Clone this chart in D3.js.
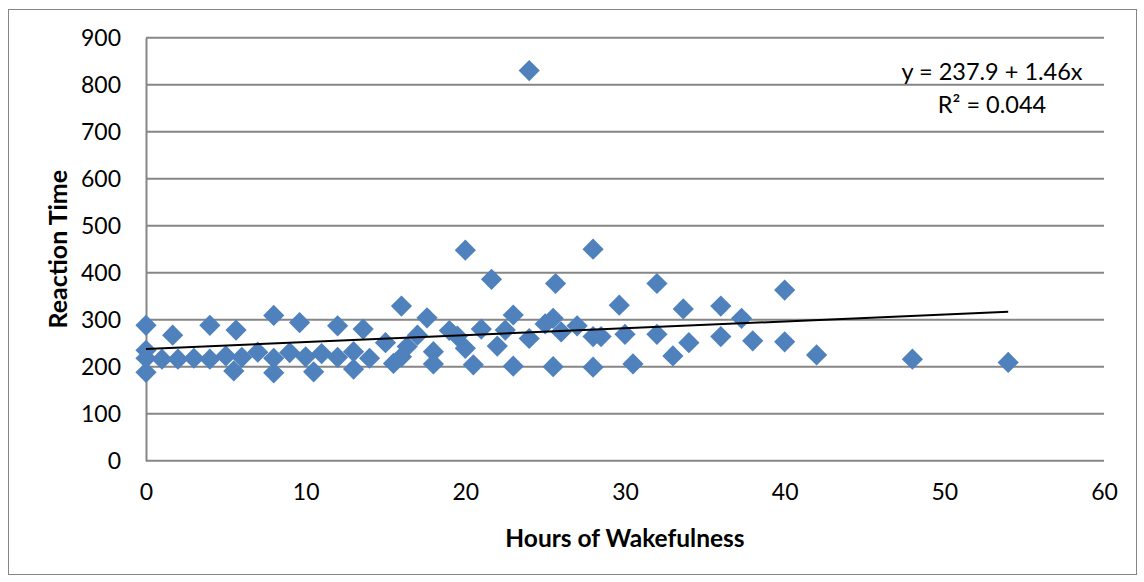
<!DOCTYPE html>
<html>
<head>
<meta charset="utf-8">
<script src="https://cdn.jsdelivr.net/npm/d3@7"></script>
<style>
  html, body { margin: 0; padding: 0; background: #fff; }
  svg { display: block; }
  text { font-family: Lato, "Open Sans", sans-serif; fill: #000; }
</style>
</head>
<body>
<svg id="chart" width="1144" height="582"></svg>
<script>
// Hours awake and the measured reaction time for each trial
const hours = [
  0, 0, 0, 0, 1, 1.67, 2, 3, 4, 4,
  5, 5.5, 5.64, 6, 7, 8, 8, 8, 9, 9.62,
  10, 10.5, 11, 12, 12, 13, 13, 13.6, 14, 15,
  15.5, 16, 16, 16.36, 17, 17.6, 18, 18, 19, 19.5,
  20, 20, 20.5, 21, 21.64, 22, 22.5, 23, 23, 24,
  24, 25, 25.5, 25.65, 25.5, 26, 27, 28, 28, 28,
  28.5, 29.64, 30, 30.5, 32, 32, 33, 33.65, 34, 36,
  36, 37.3, 38, 40, 40, 42, 48, 54
];
const reaction = [
  288, 235, 218, 188, 216, 267, 216, 218, 288, 216,
  223, 191, 278, 220, 231, 309, 218, 187, 230, 294,
  221, 189, 228, 287, 220, 232, 195, 280, 218, 251,
  207, 329, 221, 243, 267, 304, 232, 206, 277, 265,
  448, 239, 204, 280, 386, 244, 278, 310, 201, 830,
  260, 291, 303, 377, 200, 274, 287, 450, 264, 199,
  264, 331, 269, 206, 377, 269, 223, 323, 251, 329,
  264, 303, 255, 363, 253, 225, 216, 209
];

// Linear trend fit
const intercept = 237.9;
const slope = 1.46;
const trendLabel = ["y = 237.9 + 1.46x", "R² = 0.044"];

const xTicks = [0, 10, 20, 30, 40, 50, 60];
const yTicks = [0, 100, 200, 300, 400, 500, 600, 700, 800, 900];

const svg = d3.select("#chart");

// outer frame
svg.append("rect")
  .attr("x", 8.5).attr("y", 9.5)
  .attr("width", 1128).attr("height", 565)
  .attr("fill", "#fff").attr("stroke", "#868686").attr("stroke-width", 1);

const x = d3.scaleLinear().domain([0, 60]).range([146, 1104]);
const y = d3.scaleLinear().domain([0, 900]).range([460.7, 37.7]);

// horizontal gridlines
svg.append("g")
  .selectAll("line")
  .data(yTicks)
  .join("line")
  .attr("x1", x(0)).attr("x2", x(60))
  .attr("y1", d => y(d)).attr("y2", d => y(d))
  .attr("stroke", "#868686").attr("stroke-width", 2);

// y axis
const yAxis = svg.append("g")
  .attr("transform", `translate(${x(0)},0)`)
  .call(d3.axisLeft(y).tickValues(yTicks).tickSize(0).tickPadding(25).tickFormat(d3.format("d")));
yAxis.select(".domain").attr("stroke", "#868686").attr("stroke-width", 2);
yAxis.selectAll("text").style("font-size", "23px").style("font-family", "Lato, sans-serif").attr("fill", "#000");

// x axis
const xAxis = svg.append("g")
  .attr("transform", `translate(0,${y(0)})`)
  .call(d3.axisBottom(x).tickValues(xTicks).tickSize(0).tickPadding(23).tickFormat(d3.format("d")));
xAxis.select(".domain").remove();
xAxis.selectAll("text").style("font-size", "23px").style("font-family", "Lato, sans-serif").attr("fill", "#000");

// points
const pts = hours.map((h, i) => ({ h, r: reaction[i] }));
const diamond = d3.symbol().type(d3.symbolSquare).size(225);
svg.append("g")
  .selectAll("path")
  .data(pts)
  .join("path")
  .attr("d", diamond)
  .attr("transform", d => `translate(${x(d.h)},${y(d.r)}) rotate(45)`)
  .attr("fill", "#4F81BD");

// trend line
const trendX = [0, 54];
svg.append("line")
  .attr("x1", x(trendX[0])).attr("y1", y(intercept + slope * trendX[0]))
  .attr("x2", x(trendX[1])).attr("y2", y(intercept + slope * trendX[1]))
  .attr("stroke", "#000").attr("stroke-width", 2);

// trend equation
svg.append("g")
  .selectAll("text")
  .data(trendLabel)
  .join("text")
  .attr("x", 992)
  .attr("y", (d, i) => 80 + i * 33)
  .attr("text-anchor", "middle")
  .style("font-size", "23.5px")
  .text(d => d);

// axis titles
svg.append("text")
  .attr("x", 625).attr("y", 547)
  .attr("text-anchor", "middle")
  .style("font-size", "24.5px").style("font-weight", "bold")
  .text("Hours of Wakefulness");

svg.append("text")
  .attr("transform", `translate(67,${(y(0) + y(900)) / 2}) rotate(-90)`)
  .attr("text-anchor", "middle")
  .style("font-size", "25px").style("font-weight", "bold")
  .text("Reaction Time");
</script>
</body>
</html>
